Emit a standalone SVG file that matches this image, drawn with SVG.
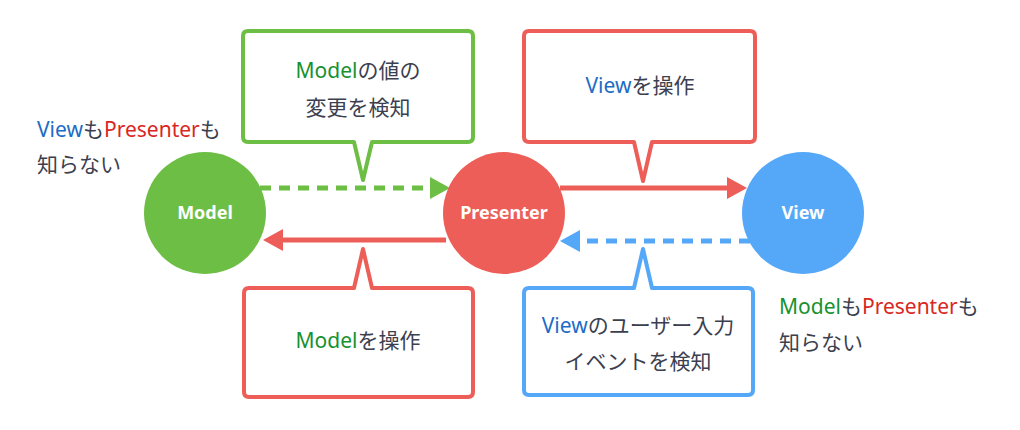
<svg xmlns="http://www.w3.org/2000/svg" width="1020" height="430" viewBox="0 0 1020 430">
<defs>
<style>
.jp{font-family:"Noto Sans","Noto Sans CJK JP",sans-serif;font-size:21px;fill:#3b3f50}
.ctr{text-anchor:middle}
.g{fill:#17922f}.b{fill:#1c6cc6}.r{fill:#d8281f}
.node{font-family:"Noto Sans","Noto Sans CJK JP",sans-serif;font-weight:700;font-size:18px;fill:#fff;text-anchor:middle}
.box{fill:#fff;stroke-width:4;stroke-linejoin:round}
.line{fill:none;stroke-width:5}
</style>
<marker id="hg" markerUnits="userSpaceOnUse" markerWidth="20" markerHeight="22" refX="0" refY="11" orient="auto"><path d="M0,0 L20,11 L0,22 Z" fill="#6dbe45"/></marker>
<marker id="hr" markerUnits="userSpaceOnUse" markerWidth="20" markerHeight="22" refX="0" refY="11" orient="auto"><path d="M0,0 L20,11 L0,22 Z" fill="#ec5e57"/></marker>
<marker id="hb" markerUnits="userSpaceOnUse" markerWidth="20" markerHeight="22" refX="0" refY="11" orient="auto"><path d="M0,0 L20,11 L0,22 Z" fill="#55a7f7"/></marker>
</defs>
<rect width="1020" height="430" fill="#fff"/>
<g id="connectors">
<line class="line" x1="260" y1="188" x2="430" y2="188" stroke="#6dbe45" stroke-dasharray="11,8" marker-end="url(#hg)"/>
<line class="line" x1="560" y1="188" x2="727" y2="188" stroke="#ec5e57" marker-end="url(#hr)"/>
<line class="line" x1="446" y1="240" x2="283" y2="240" stroke="#ec5e57" marker-end="url(#hr)"/>
<line class="line" x1="750" y1="241" x2="580" y2="241" stroke="#55a7f7" stroke-dasharray="11,8" marker-end="url(#hb)"/>
</g>
<g id="model">
<circle cx="205" cy="213" r="61" fill="#6dbe45"/>
<text class="node" x="205" y="219">Model</text>
</g>
<g id="presenter">
<circle cx="504" cy="213" r="61" fill="#ec5e57"/>
<text class="node" x="504" y="219">Presenter</text>
</g>
<g id="view">
<circle cx="803" cy="213" r="61" fill="#55a7f7"/>
<text class="node" x="803" y="219">View</text>
</g>
<g id="callout-model-change">
<path class="box" stroke="#6dbe45" d="M248,31 H468 Q473,31 473,36 V137 Q473,142 468,142 H372 L363,180 L354,142 H248 Q243,142 243,137 V36 Q243,31 248,31 Z"/>
<text class="jp ctr" x="358" y="78"><tspan class="g">Model</tspan>の値の</text>
<text class="jp ctr" x="358" y="115">変更を検知</text>
</g>
<g id="callout-view-op">
<path class="box" stroke="#ec5e57" d="M529,31 H750 Q755,31 755,36 V137 Q755,142 750,142 H652 L643,181 L634,142 H529 Q524,142 524,137 V36 Q524,31 529,31 Z"/>
<text class="jp ctr" x="640" y="93"><tspan class="b">View</tspan>を操作</text>
</g>
<g id="callout-model-op">
<path class="box" stroke="#ec5e57" d="M249,288 H354 L363,249 L372,288 H468 Q473,288 473,293 V392 Q473,397 468,397 H249 Q244,397 244,392 V293 Q244,288 249,288 Z"/>
<text class="jp ctr" x="358" y="348"><tspan class="g">Model</tspan>を操作</text>
</g>
<g id="callout-view-event">
<path class="box" stroke="#55a7f7" d="M529,288 H634 L643,249 L652,288 H748 Q753,288 753,293 V390 Q753,395 748,395 H529 Q524,395 524,390 V293 Q524,288 529,288 Z"/>
<text class="jp ctr" x="638" y="333"><tspan class="b">View</tspan>のユーザー入力</text>
<text class="jp ctr" x="638" y="369">イベントを検知</text>
</g>
<g id="note-model">
<text class="jp" x="37" y="137"><tspan class="b">View</tspan>も<tspan class="r">Presenter</tspan>も</text>
<text class="jp" x="37" y="172">知らない</text>
</g>
<g id="note-view">
<text class="jp" x="779" y="314"><tspan class="g">Model</tspan>も<tspan class="r">Presenter</tspan>も</text>
<text class="jp" x="779" y="350">知らない</text>
</g>
</svg>
